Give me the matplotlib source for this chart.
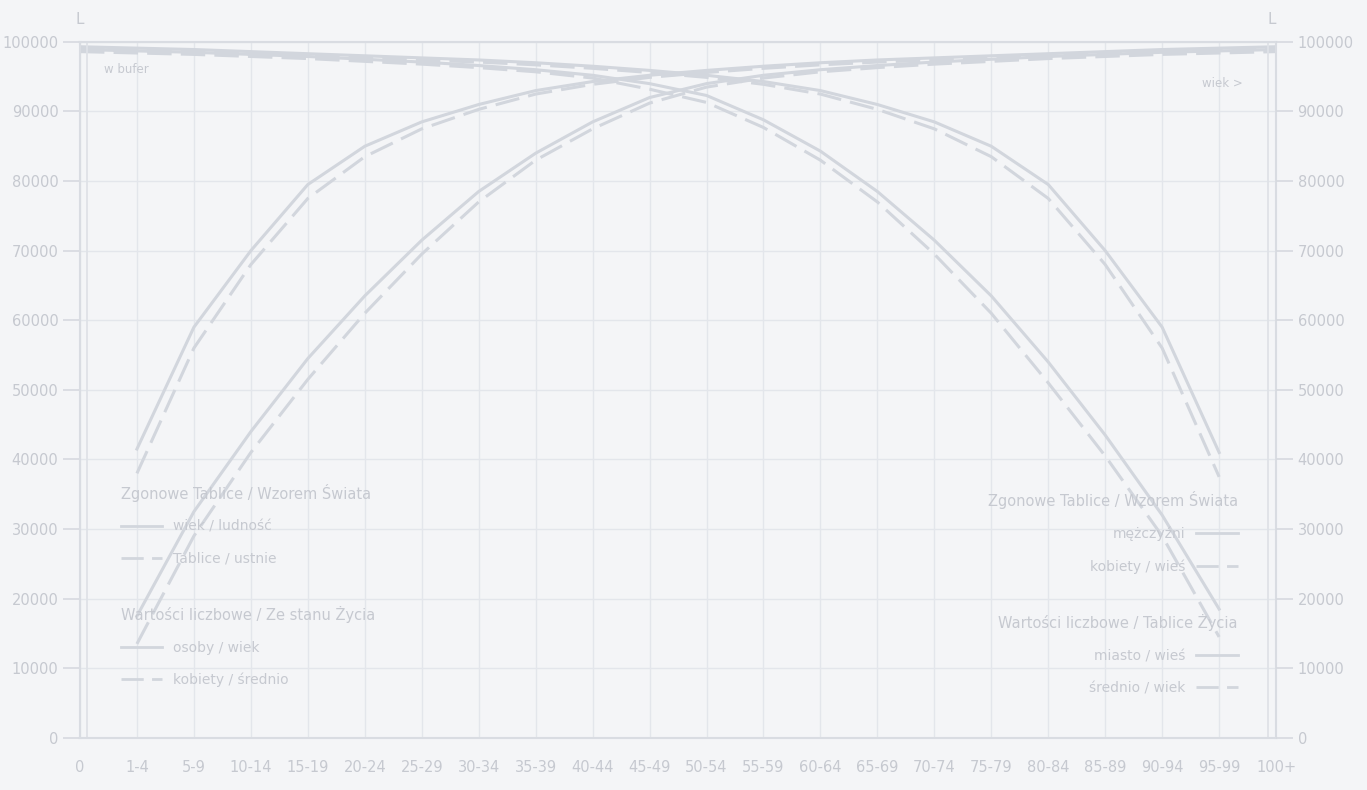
import numpy as np
import matplotlib
matplotlib.use("Agg")
import matplotlib.pyplot as plt
from matplotlib.lines import Line2D
from matplotlib.legend import Legend

# age groups on the x axis
ages = ["0", "1-4", "5-9", "10-14", "15-19", "20-24", "25-29", "30-34", "35-39",
        "40-44", "45-49", "50-54", "55-59", "60-64", "65-69", "70-74", "75-79",
        "80-84", "85-89", "90-94", "95-99", "100+"]

nan = np.nan
# rising curves, flattening into the band along the top on the right
rise_a1 = [nan, 41500, 59000, 70000, 79500, 85000, 88500, 91000, 93000, 94300, 95200, 95900,
           96500, 97000, 97400, 97700, 98000, 98300, 98600, 98900, 99100, 99300]
rise_a2 = [nan, 38000, 56000, 68000, 77500, 83500, 87500, 90300, 92500, 93900, 94900, 95600,
           96200, 96700, 97100, 97400, 97700, 98000, 98300, 98600, 98800, 99000]
rise_b1 = [nan, 17500, 32500, 44000, 54500, 63500, 71500, 78500, 84000, 88500, 92000, 94000,
           95200, 96000, 96600, 97100, 97500, 97900, 98200, 98500, 98700, 98900]
rise_b2 = [nan, 13500, 29000, 41000, 51500, 61000, 69500, 77000, 83000, 87500, 91200, 93500,
           94800, 95700, 96300, 96800, 97200, 97600, 97900, 98200, 98400, 98600]
# falling curves, coming out of the top band on the left
fall_c1 = [98900, 98700, 98500, 98200, 97900, 97500, 97100, 96600, 96000, 95200, 94000, 92300,
           88800, 84300, 78500, 71500, 63500, 54000, 43500, 32000, 18500, nan]
fall_c2 = [98600, 98400, 98200, 97900, 97600, 97200, 96800, 96300, 95700, 94800, 93200, 91300,
           87700, 83000, 77000, 69500, 61000, 51000, 40500, 29000, 14500, nan]
fall_d1 = [99300, 99100, 98900, 98600, 98300, 98000, 97700, 97400, 97000, 96500, 95900, 95200,
           94300, 93000, 91000, 88500, 85000, 79500, 70000, 59000, 41000, nan]
fall_d2 = [99000, 98800, 98600, 98300, 98000, 97700, 97400, 97100, 96700, 96200, 95600, 94900,
           93900, 92500, 90300, 87500, 83500, 77500, 68000, 56000, 37500, nan]

yticks = [0, 10000, 20000, 30000, 40000, 50000, 60000, 70000, 80000, 90000, 100000]

bg = "#f4f5f7"
line_c = "#d2d6dd"
grid_c = "#e3e6eb"
text_c = "#c6c9d0"
dash = (0, (8, 3))

fig = plt.figure(figsize=(13.67, 7.90), dpi=100, facecolor=bg)
ax = fig.add_axes([0.0585, 0.066, 0.875, 0.881], facecolor=bg)
x = np.arange(len(ages))

ax.plot(x, rise_a1, color=line_c, lw=2.2)
ax.plot(x, rise_a2, color=line_c, lw=2.2, ls=dash)
ax.plot(x, rise_b1, color=line_c, lw=2.2)
ax.plot(x, rise_b2, color=line_c, lw=2.2, ls=dash)
ax.plot(x, fall_c1, color=line_c, lw=2.2)
ax.plot(x, fall_c2, color=line_c, lw=2.2, ls=dash)
ax.plot(x, fall_d1, color=line_c, lw=2.2)
ax.plot(x, fall_d2, color=line_c, lw=2.2, ls=dash)

ax.set_xlim(0, len(ages) - 1)
ax.set_ylim(0, 100000)
ax.set_yticks(yticks)
ax.set_yticklabels([str(v) for v in yticks])
ax.set_xticks(x)
ax.set_xticklabels(ages)
ax.grid(True, color=grid_c, lw=1.0)
ax.set_axisbelow(True)

for s in ax.spines.values():
    s.set_color("#d9dce2")
    s.set_linewidth(1.5)
# double frame lines at the sides
ax.axvline(0.12, color="#dfe2e7", lw=1.3)
ax.axvline(len(ages) - 1.15, color="#dfe2e7", lw=1.3)

ax.tick_params(axis="both", colors="#d6d9df", labelcolor=text_c, labelsize=10.5, length=12, width=1.2)
ax.tick_params(axis="x", length=0, pad=16)

ax2 = ax.twinx()
ax2.set_ylim(0, 100000)
ax2.set_yticks(yticks)
ax2.set_yticklabels([str(v) for v in yticks])
ax2.tick_params(axis="y", colors="#d6d9df", labelcolor=text_c, labelsize=10.5, length=12, width=1.2)
for s in ax2.spines.values():
    s.set_visible(False)

ax.text(0.02, 0.955, "w bufer", transform=ax.transAxes, color=text_c, fontsize=8.5)
ax.text(0.972, 0.935, "wiek >", transform=ax.transAxes, color=text_c, fontsize=8.5, ha="right")
fig.text(0.058, 0.985, "L", color=text_c, fontsize=11, ha="center", va="top")
fig.text(0.930, 0.985, "L", color=text_c, fontsize=11, ha="center", va="top")

solid = Line2D([], [], color=line_c, lw=2.0)
dashed = Line2D([], [], color=line_c, lw=2.0, ls=dash)


def group(title, labels, anchor, loc, align, first):
    leg = Legend(ax, [solid, dashed], labels, title=title, loc=loc, bbox_to_anchor=anchor,
                 frameon=False, fontsize=10, title_fontsize=10.5, labelcolor=text_c,
                 handlelength=3.0, labelspacing=1.3, alignment=align, markerfirst=first,
                 borderaxespad=0, borderpad=0)
    leg.get_title().set_color(text_c)
    ax.add_artist(leg)
    return leg


group("Zgonowe Tablice / Wzorem Świata", ["wiek / ludność", "Tablice / ustnie"],
      (0.034, 0.365), "upper left", "left", True)
group("Wartości liczbowe / Ze stanu Życia", ["osoby / wiek", "kobiety / średnio"],
      (0.034, 0.19), "upper left", "left", True)
group("Zgonowe Tablice / Wzorem Świata", ["mężczyźni", "kobiety / wieś"],
      (0.968, 0.355), "upper right", "right", False)
group("Wartości liczbowe / Tablice Życia", ["miasto / wieś", "średnio / wiek"],
      (0.968, 0.178), "upper right", "right", False)

fig.savefig("out.png", dpi=100, facecolor=bg)
